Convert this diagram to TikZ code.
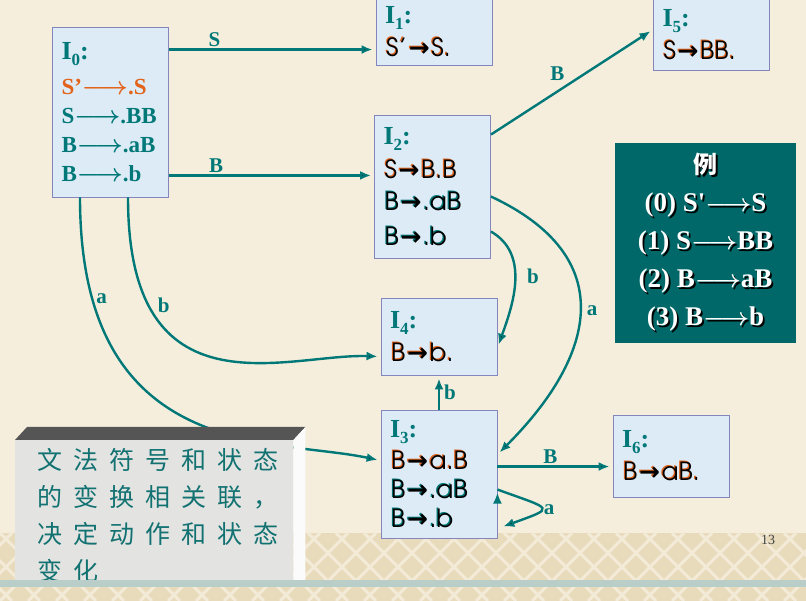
\documentclass[tikz,border=0pt]{standalone}
\usepackage{fontspec}
\setmainfont{Liberation Serif}
\newfontfamily\gothfont{TeX Gyre Adventor}
\newfontfamily\arrowfont{DejaVu Sans}
\newfontfamily\cjkfont{Noto Sans CJK SC}
\usetikzlibrary{arrows.meta,positioning}

\definecolor{paper}{HTML}{F5EEDD}
\definecolor{boxfill}{HTML}{DDEBF6}
\definecolor{boxline}{HTML}{8585BD}
\definecolor{arrc}{HTML}{007878}
\definecolor{orng}{HTML}{E2631B}
\definecolor{extel}{HTML}{006868}
\definecolor{notegray}{HTML}{E3E3E1}
\definecolor{notetop}{HTML}{555555}
\definecolor{notetxtc}{HTML}{127272}
\definecolor{bandc}{HTML}{E8DBBC}
\definecolor{bandl}{HTML}{F3EBD7}
\definecolor{stripe}{HTML}{B9CEC9}

\newcommand\settitle[1]{{\fontsize{26}{26}\selectfont\bfseries\color{arrc}I\raisebox{-6pt}{\fontsize{17}{17}\selectfont #1}:}}
\newcommand\itemarr{\kern1.5pt{\arrowfont\bfseries →}\kern1.5pt}
\newcommand\itemline[2]{\leavevmode\rlap{\color{#1}#2}\rlap{\kern1.2pt\raisebox{-1.2pt}{\color{black}#2}}\phantom{#2}}
\newcommand\exline[1]{\leavevmode\rlap{\kern1.8pt\raisebox{-1.8pt}{\color{black}#1}}{\color{white}#1}}
\makeatletter
\newcommand\spreadcjk[1]{\@tfor\cjkch:=#1\do{\cjkch\kern11pt}}
\makeatother

\tikzset{
  itemset/.style={on grid,draw=boxline,fill=boxfill,line width=0.9pt,text width=98pt,
    inner xsep=9pt,inner ysep=0pt,align=left,font=\fontsize{25}{32}\selectfont},
  trans/.style={draw=arrc,line width=2.4pt,shorten >=3pt,-{Latex[length=11pt,width=9pt]}},
  lab/.style={text=arrc,font=\fontsize{21}{21}\selectfont\bfseries,inner sep=2pt},
  exbox/.style={fill=extel,minimum width=181pt,minimum height=200pt,align=center,
    font=\fontsize{27}{38}\selectfont\bfseries\boldmath},
  notebox/.style={fill=notegray,minimum width=278pt,minimum height=149pt,anchor=north west,inner sep=0pt},
  notetxt/.style={anchor=north west,align=left,text=notetxtc,inner sep=0pt,
    font=\cjkfont\fontsize{25}{37}\selectfont}
}

\begin{document}
\begin{tikzpicture}[x=1pt,y=1pt]
  \fill[paper] (0,0) rectangle (806,601);
  \useasboundingbox (0,0) rectangle (806,601);
  % bottom border band
  \begin{scope}
    \clip (0,0) rectangle (806,68);
    \fill[bandc] (0,0) rectangle (806,68);
    \foreach \k in {-84,-56,...,820} {
      \draw[bandl,line width=3pt] (\k,0) -- ++(68,68);
      \draw[bandl,line width=3pt] (\k,68) -- ++(68,-68);
    }
  \end{scope}

  % item sets
  \node[itemset,minimum height=170pt,font=\fontsize{23}{29}\selectfont\bfseries\boldmath] (I0) at (110.5,489)
    {\settitle{0}\\[6pt]
     {\color{orng}S’$\longrightarrow$.S}\\
     {\color{arrc}S$\longrightarrow$.BB}\\
     {\color{arrc}B$\longrightarrow$.aB}\\
     {\color{arrc}B$\longrightarrow$.b}};
  \node[itemset,minimum height=66pt] (I1) [above right=80pt and 323.5pt of I0]
    {\settitle{1}\\ {\gothfont\itemline{orng}{S’\itemarr S.}}};
  \node[itemset,minimum height=143pt] (I2) [below right=74.5pt and 322pt of I0]
    {\settitle{2}\\[1pt]
     {\gothfont\itemline{orng}{S\itemarr B.B}}\\
     {\gothfont\itemline{arrc}{B\itemarr.aB}}\\[3pt]
     {\gothfont\itemline{arrc}{B\itemarr.b}}};
  \node[itemset,minimum height=77pt] (I4) [below right=150pt and 6.5pt of I2]
    {\settitle{4}\\ {\gothfont\itemline{orng}{B\itemarr b.}}};
  \node[itemset,minimum height=128pt] (I3) [below=137.5pt of I4]
    {\settitle{3}\\[-1pt]
     {\gothfont\itemline{orng}{B\itemarr a.B}}\\[-3pt]
     {\gothfont\itemline{arrc}{B\itemarr.aB}}\\[-3pt]
     {\gothfont\itemline{arrc}{B\itemarr.b}}};
  \node[itemset,minimum height=71pt] (I5) [above right=152pt and 279pt of I2]
    {\settitle{5}\\ {\gothfont\itemline{orng}{S\itemarr BB.}}};
  \node[itemset,minimum height=82pt] (I6) [above right=18pt and 232pt of I3]
    {\settitle{6}\\ {\gothfont\itemline{orng}{B\itemarr aB.}}};

  % grammar
  \node[exbox] (ex) at (705.5,358)
    {\exline{{\cjkfont\fontsize{24}{24}\selectfont 例}}\\
     \exline{(0) S\textquotesingle$\longrightarrow$S}\\
     \exline{(1) S$\longrightarrow$BB}\\
     \exline{(2) B$\longrightarrow$aB}\\
     \exline{(3) B$\longrightarrow$b}};

  \coordinate (s0) at ([yshift=-23pt]I0.north east);
  \coordinate (B0) at ([yshift=22pt]I0.south east);
  \coordinate (a0) at ([xshift=-30.5pt]I0.south);
  \coordinate (b0) at ([xshift=17.5pt]I0.south);
  \coordinate (B2) at ([yshift=-20pt]I2.north east);
  \coordinate (a2) at ([yshift=-82pt]I2.north east);
  \coordinate (b2) at ([yshift=-117pt]I2.north east);
  \coordinate (B5) at ([yshift=-31pt]I5.north west);
  \coordinate (b4r) at ([yshift=-50pt]I4.north east);
  \coordinate (b4l) at ([yshift=-59pt]I4.north west);
  \coordinate (a3r) at ([yshift=-45pt]I3.north east);
  \coordinate (a3l) at ([yshift=-51pt]I3.north west);
  \coordinate (B3) at ([yshift=-57pt]I3.north east);
  \coordinate (a3o) at ([yshift=-80pt]I3.north east);
  \coordinate (a3i) at ([xshift=3pt,yshift=-118pt]I3.north east);

  \path[trans]
    (s0) edge node[lab,pos=0.22,above] {S} (s0 -| I1.west)
    (B0) edge node[lab,pos=0.23,above] {B} (B0 -| I2.west)
    (B2) edge node[lab,pos=0.41,above=8pt] {B} (B5)
    (b2) edge[out=-30,in=70] node[lab,pos=0.45,right=9pt] {b} (b4r)
    (a2) edge[out=-25,in=45,looseness=1.4] node[lab,pos=0.5,right=4pt] {a} (a3r)
    (b0) edge[out=-90,in=178,out looseness=1.9,in looseness=0.8] node[lab,pos=0.22,right=6pt] {b} (b4l)
    (a0) edge[out=-90,in=168,out looseness=1.7,in looseness=0.7] node[lab,pos=0.15,right=1pt] {a} (a3l)
    (I3) edge node[lab,right=2pt] {b} (I4)
    (B3) edge node[lab,pos=0.46,above] {B} (B3 -| I6.west)
    (a3o) edge[out=-20,in=20,looseness=4] node[lab,right,pos=0.55] {a} (a3i);

  % note card
  \begin{scope}
    \clip (0,14) rectangle (806,601);
    \node[notebox,minimum height=147pt] (note) at (15,161) {};
    \fill[notetop] (note.north west) -- ++(12pt,13pt) -- ([shift={(12pt,13pt)}]note.north east)
      -- (note.north east) -- cycle;
    \fill[white!97!gray] (note.north east) -- ++(12pt,13pt) -- ([xshift=12pt]note.south east)
      -- (note.south east) -- cycle;
    \node[notetxt] (notetext) at (37,153)
      {\spreadcjk{文法符号和状态}\\
       \spreadcjk{的变换相关联，}\\
       \spreadcjk{决定动作和状态}\\
       \spreadcjk{变化}};
  \end{scope}
  \fill[stripe] (0,14) rectangle (806,21);

  \node (pg) at (768,61) {\fontsize{14}{14}\selectfont\color{black!75}13};
\end{tikzpicture}
\end{document}
